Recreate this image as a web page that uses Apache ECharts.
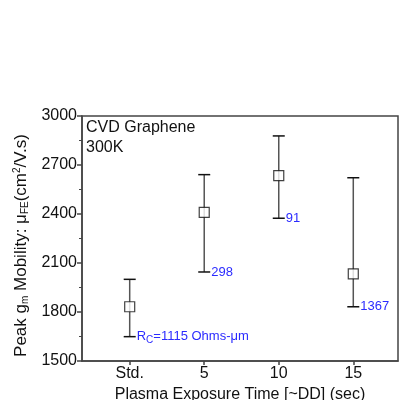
<!DOCTYPE html>
<html>
<head>
<meta charset="utf-8">
<script src="https://cdn.jsdelivr.net/npm/echarts@6/dist/echarts.min.js"></script>
<style>
html,body{margin:0;padding:0;background:#fff;}
#chart{width:411px;height:400px;}
</style>
</head>
<body>
<div id="chart"></div>
<script>
// 横轴位置与标签
const xPos = [0, 5, 10, 15];
const xLabels = ['Std.', '5', '10', '15'];
// 平均迁移率及误差范围
const meanVals = [1832, 2410, 2635, 2033];
const upperVals = [2000, 2641, 2878, 2622];
const lowerVals = [1649, 2045, 2374, 1832];
// 接触电阻标注
const rcNotes = ['{r|R}{sub|C}{r|=1115 Ohms-\u03bcm}', '298', '91', '1367'];

const FONT = 'Liberation Sans, Arial, sans-serif';
const BLUE = '#2b2bff';

let myChart = echarts.init(document.getElementById('chart'));

let barData = [];
let pointData = [];
for (let i = 0; i < xPos.length; i++) {
	barData.push([xPos[i], lowerVals[i], upperVals[i], i]);
	pointData.push([xPos[i], meanVals[i]]);
}

function renderErrorBar(params, api) {
	let x = api.value(0);
	let lo = api.coord([x, api.value(1)]);
	let hi = api.coord([x, api.value(2)]);
	let idx = api.value(3);
	let cap = 6;
	return {
		type: 'group',
		children: [
			{type: 'line', shape: {x1: lo[0], y1: lo[1], x2: hi[0], y2: hi[1]}, style: {stroke: '#555', lineWidth: 1.5}},
			{type: 'line', shape: {x1: hi[0] - cap, y1: hi[1], x2: hi[0] + cap, y2: hi[1]}, style: {stroke: '#111', lineWidth: 1.5}},
			{type: 'line', shape: {x1: lo[0] - cap, y1: lo[1], x2: lo[0] + cap, y2: lo[1]}, style: {stroke: '#111', lineWidth: 1.5}},
			{
				type: 'text',
				x: lo[0] + cap + 1,
				y: lo[1],
				style: {
					text: rcNotes[idx],
					fill: BLUE,
					font: '13px ' + FONT,
					verticalAlign: 'middle',
					align: 'left',
					rich: {
						r: {fill: BLUE, fontSize: 13, fontFamily: FONT},
						sub: {fill: BLUE, fontSize: 10, fontFamily: FONT, padding: [8, 0, 0, 0]}
					}
				}
			}
		]
	};
}

let option = {
	animation: false,
	backgroundColor: '#fff',
	grid: {left: 82, right: 13, top: 116, bottom: 39, outerBoundsMode: 'none', show: true, borderColor: '#444', borderWidth: 1.5},
	xAxis: {
		type: 'value',
		min: -3.2,
		max: 18,
		splitLine: {show: false},
		axisLine: {onZero: false, lineStyle: {color: '#444', width: 1.5}},
		axisTick: {customValues: xPos, length: 4, lineStyle: {color: '#444', width: 1.5}},
		axisLabel: {
			customValues: xPos,
			color: '#111', fontSize: 16, fontFamily: FONT, margin: 5,
			formatter: function(v) {
				let i = xPos.indexOf(v);
				return i >= 0 ? xLabels[i] : '';
			}
		},
		name: 'Plasma Exposure Time [~DD] (sec)',
		nameLocation: 'middle',
		nameGap: 22,
		nameTextStyle: {color: '#111', fontSize: 16, fontFamily: FONT}
	},
	yAxis: {
		type: 'value',
		min: 1500,
		max: 3000,
		interval: 300,
		splitLine: {show: false},
		axisLine: {show: true, onZero: false, lineStyle: {color: '#444', width: 1.5}},
		axisTick: {length: 5, lineStyle: {color: '#444', width: 1.5}},
		minorTick: {show: true, splitNumber: 2, length: 3, lineStyle: {color: '#444'}},
		axisLabel: {color: '#111', fontSize: 16, fontFamily: FONT, margin: 5, formatter: function(v){ return String(v); }},
		name: 'Peak g{sub|m} Mobility: \u03bc{sub|FE}(cm{sup|2}/V.s)',
		nameLocation: 'middle',
		nameGap: 36,
		nameTextStyle: {
			color: '#111', fontSize: 17, fontFamily: FONT, padding: [0, 14, 0, 0],
			rich: {
				sub: {fontSize: 10, fontFamily: FONT, color: '#111', padding: [8, 0, 0, 0]},
				sup: {fontSize: 10, fontFamily: FONT, color: '#111', padding: [0, 0, 8, 0]}
			}
		}
	},
	graphic: [
		{type: 'text', left: 86, top: 120, style: {text: 'CVD Graphene', fill: '#111', font: '16px ' + FONT}},
		{type: 'text', left: 86, top: 140, style: {text: '300K', fill: '#111', font: '16px ' + FONT}}
	],
	series: [
		{
			type: 'custom',
			renderItem: renderErrorBar,
			data: barData,
			encode: {x: 0, y: [1, 2]},
			z: 2
		},
		{
			type: 'scatter',
			data: pointData,
			symbol: 'rect',
			symbolSize: 10,
			itemStyle: {color: '#fff', borderColor: '#111', borderWidth: 1.2},
			z: 3
		}
	]
};
myChart.setOption(option);
window.addEventListener('resize', function(){
	myChart.resize();
});
</script>
</body>
</html>
